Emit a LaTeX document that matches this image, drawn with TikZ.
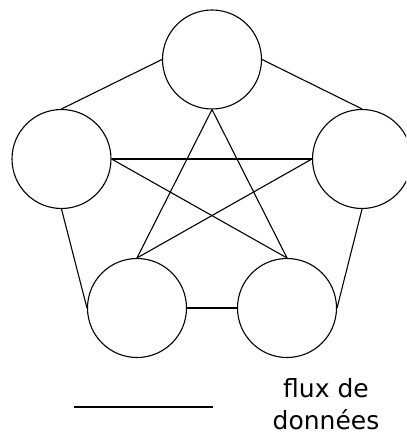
\documentclass[tikz,border=0pt]{standalone}
\usepackage{fontspec}
\setmainfont{DejaVu Sans}
\usepackage{tikz}

\begin{document}
\begin{tikzpicture}[x=1pt, y=-1pt, line width=1.1pt,
        station/.style={draw, circle, minimum size=99pt, inner sep=0pt}]
        \useasboundingbox (0,0) rectangle (406,435);
        \clip (0,0) rectangle (406,435);
        \node[station] (haut)   at (212,59.5)  {};
        \node[station] (gauche) at (61.5,159)  {};
        \node[station] (droite) at (362,159)   {};
        \node[station] (basg)   at (137,308)   {};
        \node[station] (basd)   at (287,308)   {};
        % pentagone
        \draw (haut.west) -- (gauche.north);
        \draw (haut.east) -- (droite.north);
        \draw (gauche.south) -- (basg.west);
        \draw (droite.south) -- (basd.east);
        \draw (basg.east) -- (basd.west);
        % etoile
        \draw (gauche.east) -- (droite.west);
        \draw (gauche.east) -- (basd.north);
        \draw (droite.west) -- (basg.north);
        \draw (haut.south) -- (basg.north);
        \draw (haut.south) -- (basd.north);
        % legende
        \coordinate (lg1) at (74,407);
        \coordinate (lg2) at (213,407);
        \draw (lg1) -- (lg2);
        \node[font=\fontsize{25}{32}\selectfont, align=center] (flux) at (326,404) {flux de\\ données};
      \end{tikzpicture}
\end{document}
